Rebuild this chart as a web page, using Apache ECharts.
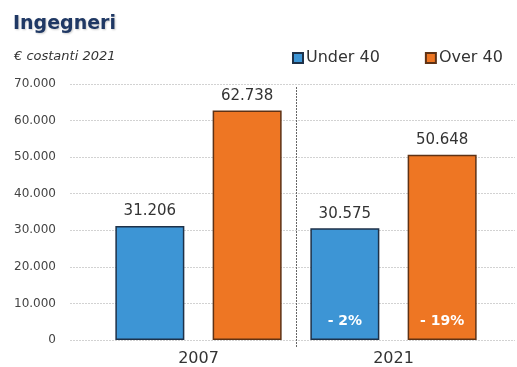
<!DOCTYPE html>
<html>
<head>
<meta charset="utf-8">
<script src="https://cdn.jsdelivr.net/npm/echarts@6/dist/echarts.min.js"></script>
<style>
  html, body { margin: 0; padding: 0; background: #fff; }
  #chart { width: 517px; height: 367px; }
</style>
</head>
<body>
<div id="chart"></div>
<script>
// Average earnings of engineers, constant 2021 euros
const years = ['2007', '2021'];
const under40 = [31206, 30575];
const over40 = [62738, 50648];
const under40Change = ['', '- 2%'];
const over40Change = ['', '- 19%'];
const yMin = 0;
const yMax = 70000;
const yStep = 10000;

const BLUE = '#3D95D5';
const ORANGE = '#EE7623';
const FONT = 'DejaVu Sans';

// thousands separator as dot: 31206 -> 31.206
function fmt(v) {
  return String(v).replace(/\B(?=(\d{3})+(?!\d))/g, '.');
}

const chart = echarts.init(document.getElementById('chart'), null, { renderer: 'canvas' });

const barGrid = { left: 101, right: 26, top: 84, bottom: 27 };

chart.setOption({
  backgroundColor: '#fff',
  animation: false,
  textStyle: { fontFamily: FONT },
  title: [
    {
      text: 'Ingegneri',
      left: 8, top: 10,
      textStyle: {
        fontFamily: FONT, fontSize: 19, fontWeight: 'bold', color: '#1F3864',
        textShadowColor: 'rgba(0,0,0,0.2)', textShadowBlur: 2,
        textShadowOffsetX: 1, textShadowOffsetY: 1
      }
    },
    {
      text: '€ costanti 2021',
      left: 9, top: 45,
      textStyle: {
        fontFamily: FONT, fontSize: 13, fontStyle: 'italic', fontWeight: 'normal', color: '#333'
      }
    }
  ],
  legend: {
    left: 292, top: 50, padding: 0,
    itemWidth: 10, itemHeight: 10, itemGap: 45,
    icon: 'rect',
    textStyle: { fontFamily: FONT, fontSize: 16, color: '#333', padding: [0, 0, 0, -2] },
    data: ['Under 40', 'Over 40']
  },
  grid: [
    // gridlines and y labels
    { left: 70, right: 2, top: 84, bottom: 27 },
    // bars
    barGrid,
    // separator between the two years
    { left: 101, right: 26, top: 87, bottom: 19 }
  ],
  xAxis: [
    { gridIndex: 0, type: 'value', min: 0, max: 1, show: false },
    {
      gridIndex: 1, type: 'category', data: years,
      axisLine: { show: false }, axisTick: { show: false },
      axisLabel: { fontFamily: FONT, fontSize: 16, color: '#333', margin: 11 },
      splitLine: { show: false }
    },
    {
      gridIndex: 1, type: 'category', data: years, show: false
    },
    {
      gridIndex: 2, type: 'value', min: 0, max: 2, interval: 1,
      axisLine: { show: false }, axisTick: { show: false }, axisLabel: { show: false },
      splitLine: {
        show: true, showMinLine: false, showMaxLine: false,
        lineStyle: { color: '#666', type: [2, 1], width: 1 }
      }
    }
  ],
  yAxis: [
    {
      gridIndex: 0, type: 'value', min: yMin, max: yMax, interval: yStep,
      axisLine: { show: false }, axisTick: { show: false },
      axisLabel: {
        fontFamily: FONT, fontSize: 12, color: '#444', margin: 14,
        formatter: fmt
      },
      splitLine: { lineStyle: { color: '#d2d2d2', type: [2, 1], width: 1 } }
    },
    { gridIndex: 1, type: 'value', min: yMin, max: yMax, show: false },
    { gridIndex: 2, type: 'value', min: 0, max: 1, show: false }
  ],
  series: [
    {
      name: 'Under 40', type: 'bar', xAxisIndex: 1, yAxisIndex: 1,
      data: under40, barWidth: 69, barGap: '41%',
      itemStyle: { color: BLUE, borderColor: '#1E3148', borderWidth: 1.5 },
      label: {
        show: true, position: 'top', distance: 7,
        fontFamily: FONT, fontSize: 15, color: '#333',
        formatter: p => fmt(p.value)
      }
    },
    {
      name: 'Over 40', type: 'bar', xAxisIndex: 1, yAxisIndex: 1,
      data: over40, barWidth: 69, barGap: '41%',
      itemStyle: { color: ORANGE, borderColor: '#5E3215', borderWidth: 1.5 },
      label: {
        show: true, position: 'top', distance: 7,
        fontFamily: FONT, fontSize: 15, color: '#333',
        formatter: p => fmt(p.value)
      }
    },
    // percentage change written inside the bottom of the 2021 bars
    {
      name: 'Under 40 change', type: 'bar', xAxisIndex: 2, yAxisIndex: 1,
      data: under40, barWidth: 69, barGap: '41%', silent: true,
      itemStyle: { color: 'rgba(0,0,0,0)' },
      label: {
        show: true, position: 'insideBottom', distance: 12,
        fontFamily: FONT, fontSize: 14, fontWeight: 'bold', color: '#fff',
        formatter: p => under40Change[p.dataIndex]
      }
    },
    {
      name: 'Over 40 change', type: 'bar', xAxisIndex: 2, yAxisIndex: 1,
      data: over40, barWidth: 69, barGap: '41%', silent: true,
      itemStyle: { color: 'rgba(0,0,0,0)' },
      label: {
        show: true, position: 'insideBottom', distance: 12,
        fontFamily: FONT, fontSize: 14, fontWeight: 'bold', color: '#fff',
        formatter: p => over40Change[p.dataIndex]
      }
    }
  ]
});
</script>
</body>
</html>
